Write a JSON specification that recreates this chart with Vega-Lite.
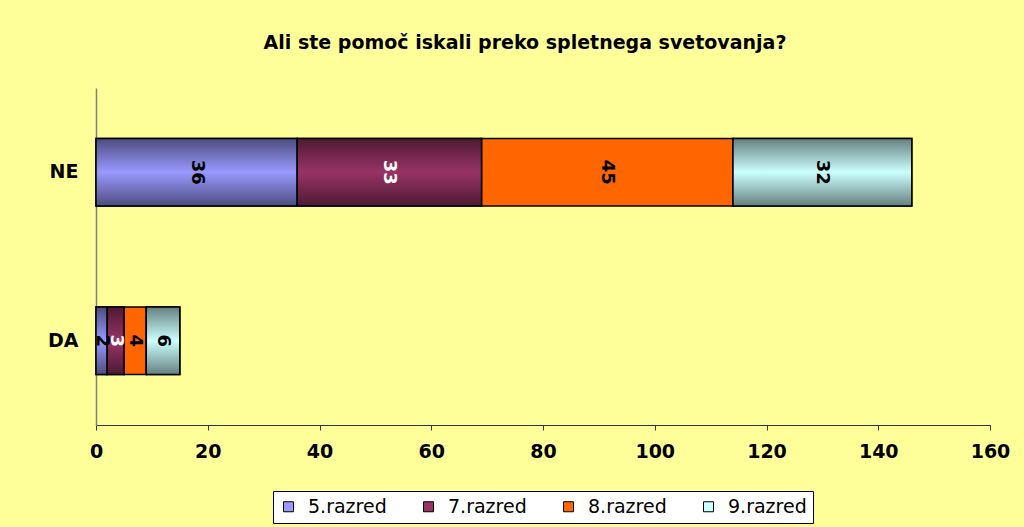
{
  "$schema": "https://vega.github.io/schema/vega-lite/v6.json",
  "width": 894,
  "height": 337,
  "autosize": {"type": "none"},
  "padding": {"left": 96, "top": 88, "right": 34, "bottom": 102},
  "background": "#FFFF99",
  "title": {
    "text": "Ali ste pomoč iskali preko spletnega svetovanja?",
    "font": "DejaVu Sans",
    "fontSize": 19,
    "fontWeight": "bold",
    "color": "black",
    "anchor": "middle",
    "dx": -18,
    "offset": 35
  },
  "data": {
    "values": [
      {"odgovor": "NE", "razred": "5.razred", "st": 1, "vrednost": 36},
      {"odgovor": "NE", "razred": "7.razred", "st": 2, "vrednost": 33},
      {"odgovor": "NE", "razred": "8.razred", "st": 3, "vrednost": 45},
      {"odgovor": "NE", "razred": "9.razred", "st": 4, "vrednost": 32},
      {"odgovor": "DA", "razred": "5.razred", "st": 1, "vrednost": 2},
      {"odgovor": "DA", "razred": "7.razred", "st": 2, "vrednost": 3},
      {"odgovor": "DA", "razred": "8.razred", "st": 3, "vrednost": 4},
      {"odgovor": "DA", "razred": "9.razred", "st": 4, "vrednost": 6}
    ]
  },
  "transform": [
    {"stack": "vrednost", "groupby": ["odgovor"], "sort": [{"field": "st", "order": "ascending"}], "as": ["x0", "x1"]}
  ],
  "encoding": {
    "y": {
      "field": "odgovor",
      "type": "nominal",
      "sort": ["NE", "DA"],
      "title": null,
      "scale": {"paddingInner": 0.6, "paddingOuter": 0.3},
      "axis": {
        "domainColor": "#808080",
        "domainWidth": 1.5,
        "ticks": false,
        "labelFont": "DejaVu Sans",
        "labelFontSize": 19,
        "labelFontWeight": "bold",
        "labelColor": "black",
        "labelPadding": 18
      }
    },
    "x": {
      "field": "x0",
      "type": "quantitative",
      "title": null,
      "scale": {"domain": [0, 160]},
      "axis": {
        "values": [0, 20, 40, 60, 80, 100, 120, 140, 160],
        "grid": false,
        "domainColor": "#333333",
        "tickColor": "#333333",
        "tickSize": 5,
        "labelFlush": false,
        "labelOverlap": false,
        "labelFont": "DejaVu Sans",
        "labelFontSize": 19,
        "labelFontWeight": "bold",
        "labelColor": "black",
        "labelPadding": 12
      }
    },
    "x2": {"field": "x1"}
  },
  "layer": [
    {
      "mark": {"type": "bar", "stroke": "black", "strokeWidth": 1.5},
      "encoding": {
        "color": {
          "field": "razred",
          "type": "nominal",
          "scale": {
            "domain": ["5.razred", "7.razred", "8.razred", "9.razred"],
            "range": ["#9999FF", "#993366", "#FF6600", "#CCFFFF"]
          },
          "legend": {
            "title": null,
            "orient": "bottom",
            "direction": "horizontal",
            "symbolType": "square",
            "symbolSize": 100,
            "symbolStrokeColor": "black",
            "symbolStrokeWidth": 1,
            "symbolOpacity": 1,
            "labelFont": "DejaVu Sans",
            "labelFontSize": 19,
            "labelColor": "black",
            "labelOffset": 10,
            "columnPadding": 32,
            "padding": 6,
            "strokeColor": "black",
            "fillColor": "white",
            "offset": 30
          }
        }
      }
    },
    {
      "transform": [{"filter": "datum.razred === '5.razred'"}],
      "mark": {"type": "bar", "stroke": "black", "strokeWidth": 1.5,
        "fill": {"gradient": "linear", "x1": 0, "y1": 0, "x2": 0, "y2": 1, "stops": [{"offset": 0, "color": "#4D4D80"}, {"offset": 0.5, "color": "#9999FF"}, {"offset": 1, "color": "#4D4D80"}]}}
    },
    {
      "transform": [{"filter": "datum.razred === '7.razred'"}],
      "mark": {"type": "bar", "stroke": "black", "strokeWidth": 1.5,
        "fill": {"gradient": "linear", "x1": 0, "y1": 0, "x2": 0, "y2": 1, "stops": [{"offset": 0, "color": "#4D1A33"}, {"offset": 0.5, "color": "#993366"}, {"offset": 1, "color": "#4D1A33"}]}}
    },
    {
      "transform": [{"filter": "datum.razred === '9.razred'"}],
      "mark": {"type": "bar", "stroke": "black", "strokeWidth": 1.5,
        "fill": {"gradient": "linear", "x1": 0, "y1": 0, "x2": 0, "y2": 1, "stops": [{"offset": 0, "color": "#668080"}, {"offset": 0.5, "color": "#CCFFFF"}, {"offset": 1, "color": "#668080"}]}}
    },
    {
      "transform": [
        {"fold": ["x0", "x1"], "as": ["kraj", "pos"]}
      ],
      "mark": {"type": "text", "angle": 90, "font": "DejaVu Sans", "fontSize": 18, "fontWeight": "bold", "align": "center", "baseline": "middle"},
      "encoding": {
        "x": {"field": "pos", "type": "quantitative", "aggregate": "mean"},
        "x2": null,
        "detail": {"field": "razred"},
        "text": {"field": "vrednost", "type": "quantitative", "aggregate": "min"},
        "color": {
          "condition": {"test": "datum.razred === '7.razred'", "value": "white"},
          "value": "black"
        }
      }
    }
  ],
  "config": {
    "view": {"stroke": null},
    "legend": {"layout": {"bottom": {"anchor": "middle"}}}
  }
}
